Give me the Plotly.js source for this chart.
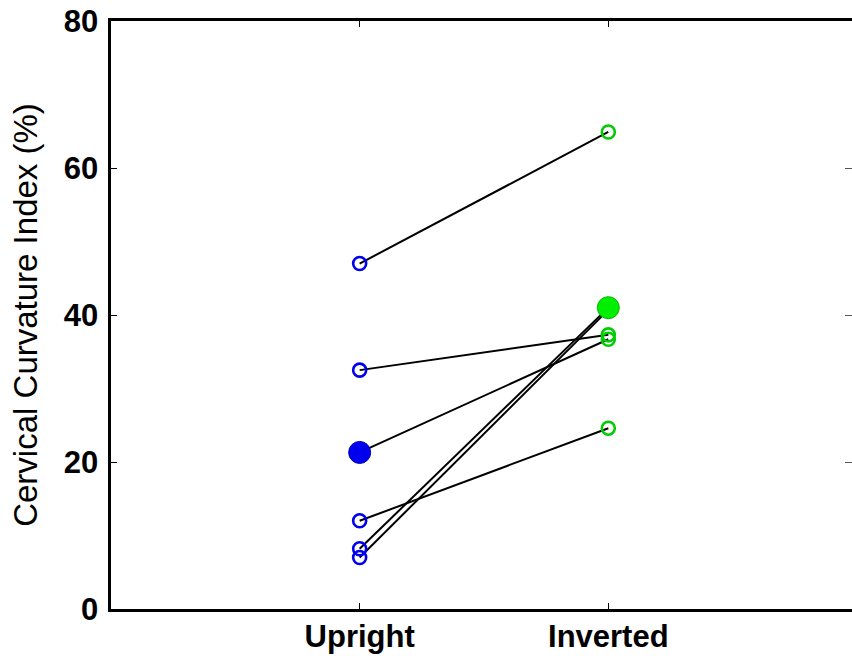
<!DOCTYPE html>
<html>
<head>
<meta charset="utf-8">
<script src="https://cdn.plot.ly/plotly-3.0.1.min.js"></script>
<style>
  html, body { margin: 0; padding: 0; overflow: hidden; background: #ffffff; }
  #chart { width: 852px; height: 656px; }
</style>
</head>
<body>
<div id="chart"></div>
<script>
// ---- data ----
const conditions = ['Upright', 'Inverted'];
const conditionX = [1, 2];
const uprightValues = [47.0, 32.5, 21.3, 12.0, 8.2, 7.0];
const invertedValues = [64.9, 37.3, 36.7, 24.6, 41.0, 40.7];
const uprightFilledIndex = 2;
const invertedFilledIndex = 4;
const yTickValues = [0, 20, 40, 60, 80];
const yTickLabels = ['0', '20', '40', '60', '80'];

const FONT = 'Arial, "Liberation Sans", sans-serif';
const traces = [];
// connecting lines
for (let i = 0; i < uprightValues.length; i++) {
  traces.push({
    x: conditionX, y: [uprightValues[i], invertedValues[i]],
    mode: 'lines', type: 'scatter', hoverinfo: 'skip',
    line: { color: '#000000', width: 2 }, showlegend: false
  });
}
const hollowUpY = uprightValues.filter((v, i) => i !== uprightFilledIndex);
const hollowInvY = invertedValues.filter((v, i) => i !== invertedFilledIndex);
traces.push({
  x: hollowUpY.map(() => conditionX[0]), y: hollowUpY,
  mode: 'markers', type: 'scatter', showlegend: false,
  marker: { symbol: 'circle-open', size: 13, color: '#0000f0', line: { width: 2.6, color: '#0000f0' } }
});
traces.push({
  x: hollowInvY.map(() => conditionX[1]), y: hollowInvY,
  mode: 'markers', type: 'scatter', showlegend: false,
  marker: { symbol: 'circle-open', size: 13, color: '#00cc00', line: { width: 2.6, color: '#00cc00' } }
});
traces.push({
  x: [conditionX[0]], y: [uprightValues[uprightFilledIndex]],
  mode: 'markers', type: 'scatter', showlegend: false,
  marker: { symbol: 'circle', size: 22, color: '#0000ee', line: { width: 1, color: '#0000bb' } }
});
traces.push({
  x: [conditionX[1]], y: [invertedValues[invertedFilledIndex]],
  mode: 'markers', type: 'scatter', showlegend: false,
  marker: { symbol: 'circle', size: 22, color: '#00ee00', line: { width: 1, color: '#00bb00' } }
});
// empty trace so the right-hand tick axis is drawn
traces.push({ x: [], y: [], yaxis: 'y2', type: 'scatter', mode: 'markers', showlegend: false, hoverinfo: 'skip' });

const layout = {
  width: 852, height: 656,
  margin: { l: 111, r: 0, t: 21, b: 47 },
  paper_bgcolor: '#ffffff', plot_bgcolor: '#ffffff',
  font: { family: FONT, color: '#000000' },
  showlegend: false,
  xaxis: {
    range: [0, 2.98], tickvals: conditionX, ticktext: conditions,
    showgrid: false, zeroline: false,
    showline: true, linewidth: 2.6, linecolor: '#000000', mirror: 'ticks',
    ticks: 'inside', ticklen: 6, tickwidth: 1, tickcolor: '#000000',
    tickfont: { size: 31, family: FONT, weight: 'bold', color: '#000000' },
    ticklabelstandoff: -2
  },
  yaxis: {
    range: [0, 80], tickvals: yTickValues, ticktext: yTickLabels,
    showgrid: false, zeroline: false,
    showline: true, linewidth: 2.6, linecolor: '#000000', mirror: false,
    ticks: 'inside', ticklen: 6, tickwidth: 1, tickcolor: '#000000',
    tickfont: { size: 31, family: FONT, weight: 'bold', color: '#000000' },
    ticklabelstandoff: 4,
    title: { text: 'Cervical Curvature Index (%)', font: { size: 33, family: FONT, color: '#000000' }, standoff: 16 }
  },
  yaxis2: {
    overlaying: 'y', side: 'right', range: [0, 80], tickvals: yTickValues,
    showticklabels: false, showgrid: false, zeroline: false, showline: false,
    ticks: 'inside', ticklen: 7, tickwidth: 1, tickcolor: '#555555'
  }
};

Plotly.newPlot('chart', traces, layout, { displayModeBar: false, staticPlot: true });
</script>
</body>
</html>
